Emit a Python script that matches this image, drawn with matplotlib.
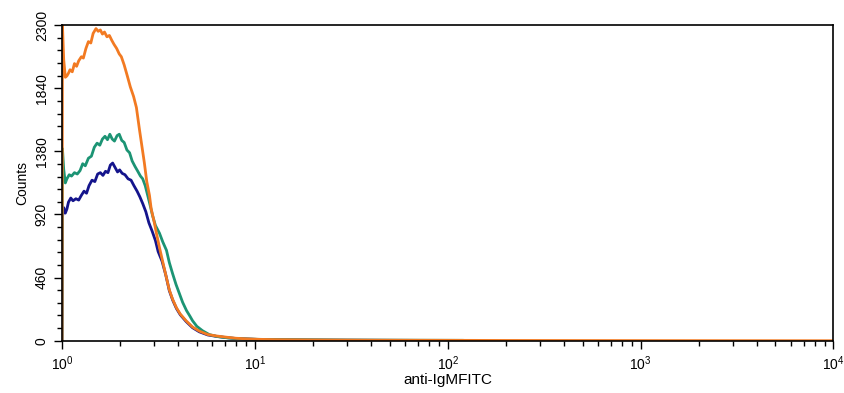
import matplotlib
matplotlib.use("Agg")
import matplotlib.pyplot as plt
from matplotlib.ticker import LogLocator, AutoMinorLocator, FixedLocator, NullFormatter

plt.rcParams["font.family"] = ["Liberation Sans", "DejaVu Sans"]
plt.rcParams["mathtext.fontset"] = "custom"
plt.rcParams["mathtext.rm"] = "Liberation Sans"
plt.rcParams["mathtext.it"] = "Liberation Sans"

# -----------------------------
# Histogram data
# -----------------------------

blue_x = [1.0, 1.005, 1.02, 1.04, 1.06, 1.08, 1.11, 1.14, 1.18, 1.22, 1.26, 1.3, 1.34,
          1.38, 1.43, 1.48, 1.53, 1.58, 1.63, 1.68, 1.73, 1.78, 1.83, 1.88, 1.94, 1.99,
          2.05, 2.12, 2.2, 2.28, 2.36, 2.45, 2.53, 2.62, 2.72, 2.82, 2.93, 3.05, 3.15,
          3.3, 3.45, 3.6, 3.75, 3.92, 4.1, 4.4, 4.75, 5.15, 5.7, 6.3, 7.2, 8.0, 10.6,
          20, 50, 100, 110]
blue_y = [0, 900, 970, 930, 960, 1010, 1040, 1020, 1035, 1025, 1060, 1090, 1075,
          1130, 1170, 1160, 1215, 1225, 1205, 1235, 1225, 1280, 1295, 1265, 1230, 1245,
          1220, 1210, 1180, 1170, 1130, 1090, 1050, 1000, 940, 860, 800, 730, 650,
          580, 480, 365, 295, 235, 190, 140, 95, 65, 42, 32, 22, 16, 9,
          5, 3, 2, 0]

green_x = [1.0, 1.005, 1.02, 1.04, 1.06, 1.09, 1.12, 1.16, 1.2, 1.24, 1.28, 1.32, 1.37,
           1.42, 1.47, 1.52, 1.57, 1.62, 1.67, 1.72, 1.77, 1.82, 1.87, 1.93, 1.98, 2.04,
           2.1, 2.17, 2.24, 2.31, 2.39, 2.47, 2.55, 2.62, 2.7, 2.78, 2.86, 2.95, 3.05,
           3.2, 3.33, 3.48, 3.6, 3.74, 3.9, 4.06, 4.22, 4.42, 4.6, 4.75, 5.0, 5.35, 5.8,
           6.4, 7.3, 8.5, 10.5, 15, 30, 60, 120, 130]
green_y = [0, 1400, 1250, 1150, 1180, 1210, 1200, 1225, 1215, 1240, 1290, 1275, 1330,
           1345, 1410, 1440, 1425, 1470, 1490, 1465, 1505, 1470, 1455, 1495, 1505, 1460,
           1445, 1390, 1370, 1310, 1270, 1235, 1200, 1180, 1130, 1060, 990, 910, 840,
           784, 720, 659, 570, 491, 410, 344, 280, 220, 180, 146, 105, 73, 45,
           30, 20, 14, 10, 8, 5, 4, 3, 0]

orange_x = [1.0, 1.005, 1.02, 1.04, 1.06, 1.08, 1.10, 1.13, 1.16, 1.19, 1.22, 1.26, 1.29,
            1.33, 1.37, 1.41, 1.45, 1.50, 1.54, 1.58, 1.62, 1.66, 1.71, 1.76, 1.81, 1.86,
            1.92, 1.98, 2.03, 2.1, 2.18, 2.26, 2.35, 2.43, 2.52, 2.6, 2.67, 2.75, 2.84,
            2.9, 3.0, 3.09, 3.2, 3.31, 3.45, 3.6, 3.75, 3.92, 4.1, 4.4, 4.75, 5.15, 5.7,
            6.3, 7.2, 8.0, 9.0, 10.6, 13, 20, 40, 100, 200, 1000, 10000]
orange_y = [0, 2300, 2050, 1920, 1930, 1950, 1975, 1960, 2020, 2000, 2040, 2070, 2060,
            2130, 2180, 2170, 2240, 2275, 2255, 2265, 2235, 2250, 2215, 2225, 2190, 2160,
            2130, 2090, 2070, 2010, 1930, 1850, 1780, 1700, 1540, 1410, 1300, 1160, 1060,
            960, 870, 780, 680, 590, 480, 370, 300, 240, 195, 145, 100, 70, 45,
            35, 25, 18, 14, 10, 8, 6, 4, 3, 2, 1, 0]

y_ticks = [0, 460, 920, 1380, 1840, 2300]

# -----------------------------
# Plot
# -----------------------------

fig = plt.figure(figsize=(8.44, 3.93), dpi=100)
ax = fig.add_axes([0.0735, 0.133, 0.914, 0.803])

ax.plot(blue_x, blue_y, color="#14148c", lw=2)
ax.plot(green_x, green_y, color="#1c9474", lw=2)
ax.plot(orange_x, orange_y, color="#f27a22", lw=2)

ax.set_xscale("log")
ax.set_xlim(1, 10000)
ax.set_ylim(0, 2300)

ax.xaxis.set_major_locator(LogLocator(base=10, numticks=10))
ax.xaxis.set_minor_locator(LogLocator(base=10, subs=range(2, 10), numticks=20))
ax.xaxis.set_minor_formatter(NullFormatter())

ax.yaxis.set_major_locator(FixedLocator(y_ticks))
ax.yaxis.set_minor_locator(AutoMinorLocator(5))
ax.set_yticklabels([str(v) for v in y_ticks], rotation=90, va="center")

ax.tick_params(which="major", direction="out", length=6, width=1, labelsize=10)
ax.tick_params(which="minor", direction="out", length=3.5, width=1)

for s in ax.spines.values():
    s.set_linewidth(1.2)

ax.set_xlabel("anti-IgMFITC", fontsize=11, labelpad=0)
ax.set_ylabel("Counts", fontsize=10, labelpad=4)

fig.savefig("out.png", dpi=100)
